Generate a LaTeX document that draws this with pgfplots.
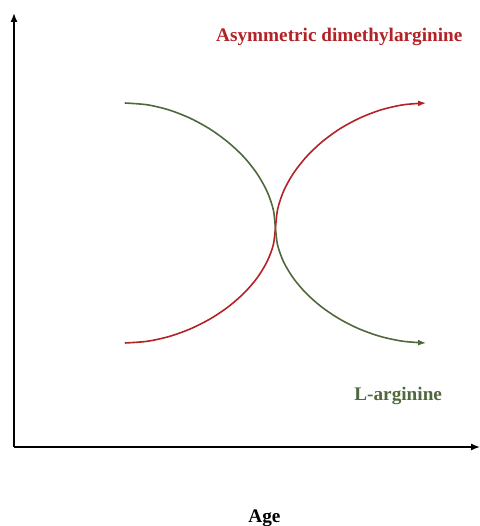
\documentclass[border=0pt]{standalone}
\usepackage{pgfplots}
\pgfplotsset{compat=1.18}
\usetikzlibrary{arrows.meta}
\usepackage{fontspec}
\setmainfont{Liberation Serif}
\definecolor{adma}{RGB}{178,34,38}
\definecolor{larg}{RGB}{79,105,60}
\begin{document}
\begin{tikzpicture}
\begin{axis}[
  at={(14bp,79bp)}, anchor=south west,
  scale only axis, width=466bp, height=434bp,
  xmin=14, xmax=481, ymin=79, ymax=513,
  axis lines=left,
  axis line style={black, line width=1.4bp, -{Latex[length=9bp,width=7bp]}},
  xtick=\empty, ytick=\empty,
  clip=false,
]
\addplot[adma, line width=1.6bp, smooth, -{Latex[length=8bp,width=6bp]}] coordinates {
(125,183) (147.5,184.7) (169.5,189.5) (190.7,197.1) (210.6,207.1) (228.6,219.1) (244.5,232.9) (257.6,248.0) (267.5,264.2) (273.8,280.9) (276,298)
(278.2,316.8) (284.3,335.2) (294.1,352.8) (307.0,369.2) (322.6,384.1) (340.6,397.2) (360.4,407.9) (381.7,416.1) (404.1,421.2) (427,423)
};
\addplot[larg, line width=1.6bp, smooth, -{Latex[length=8bp,width=6bp]}] coordinates {
(125,423) (147.5,421.2) (169.5,416.0) (190.7,407.7) (210.6,396.8) (228.6,383.7) (244.5,368.8) (257.6,352.3) (267.5,334.8) (273.8,316.6) (276,298)
(278.2,280.7) (284.3,263.8) (294.1,247.6) (307.0,232.5) (322.6,218.8) (340.6,206.8) (360.4,196.9) (381.7,189.4) (404.1,184.7) (427,183)
};
\node[adma, font=\bfseries\fontsize{19.3}{21}\selectfont] at (axis cs:340,489.5) {Asymmetric dimethylarginine};
\node[larg, font=\bfseries\fontsize{19.3}{21}\selectfont] at (axis cs:399,130) {L-arginine};
\node[black, font=\bfseries\fontsize{19.3}{21}\selectfont] at (axis cs:265,8) {Age};
\end{axis}
\pgfresetboundingbox
\path[use as bounding box] (0,0) rectangle (480bp,526bp);
\end{tikzpicture}
\end{document}
